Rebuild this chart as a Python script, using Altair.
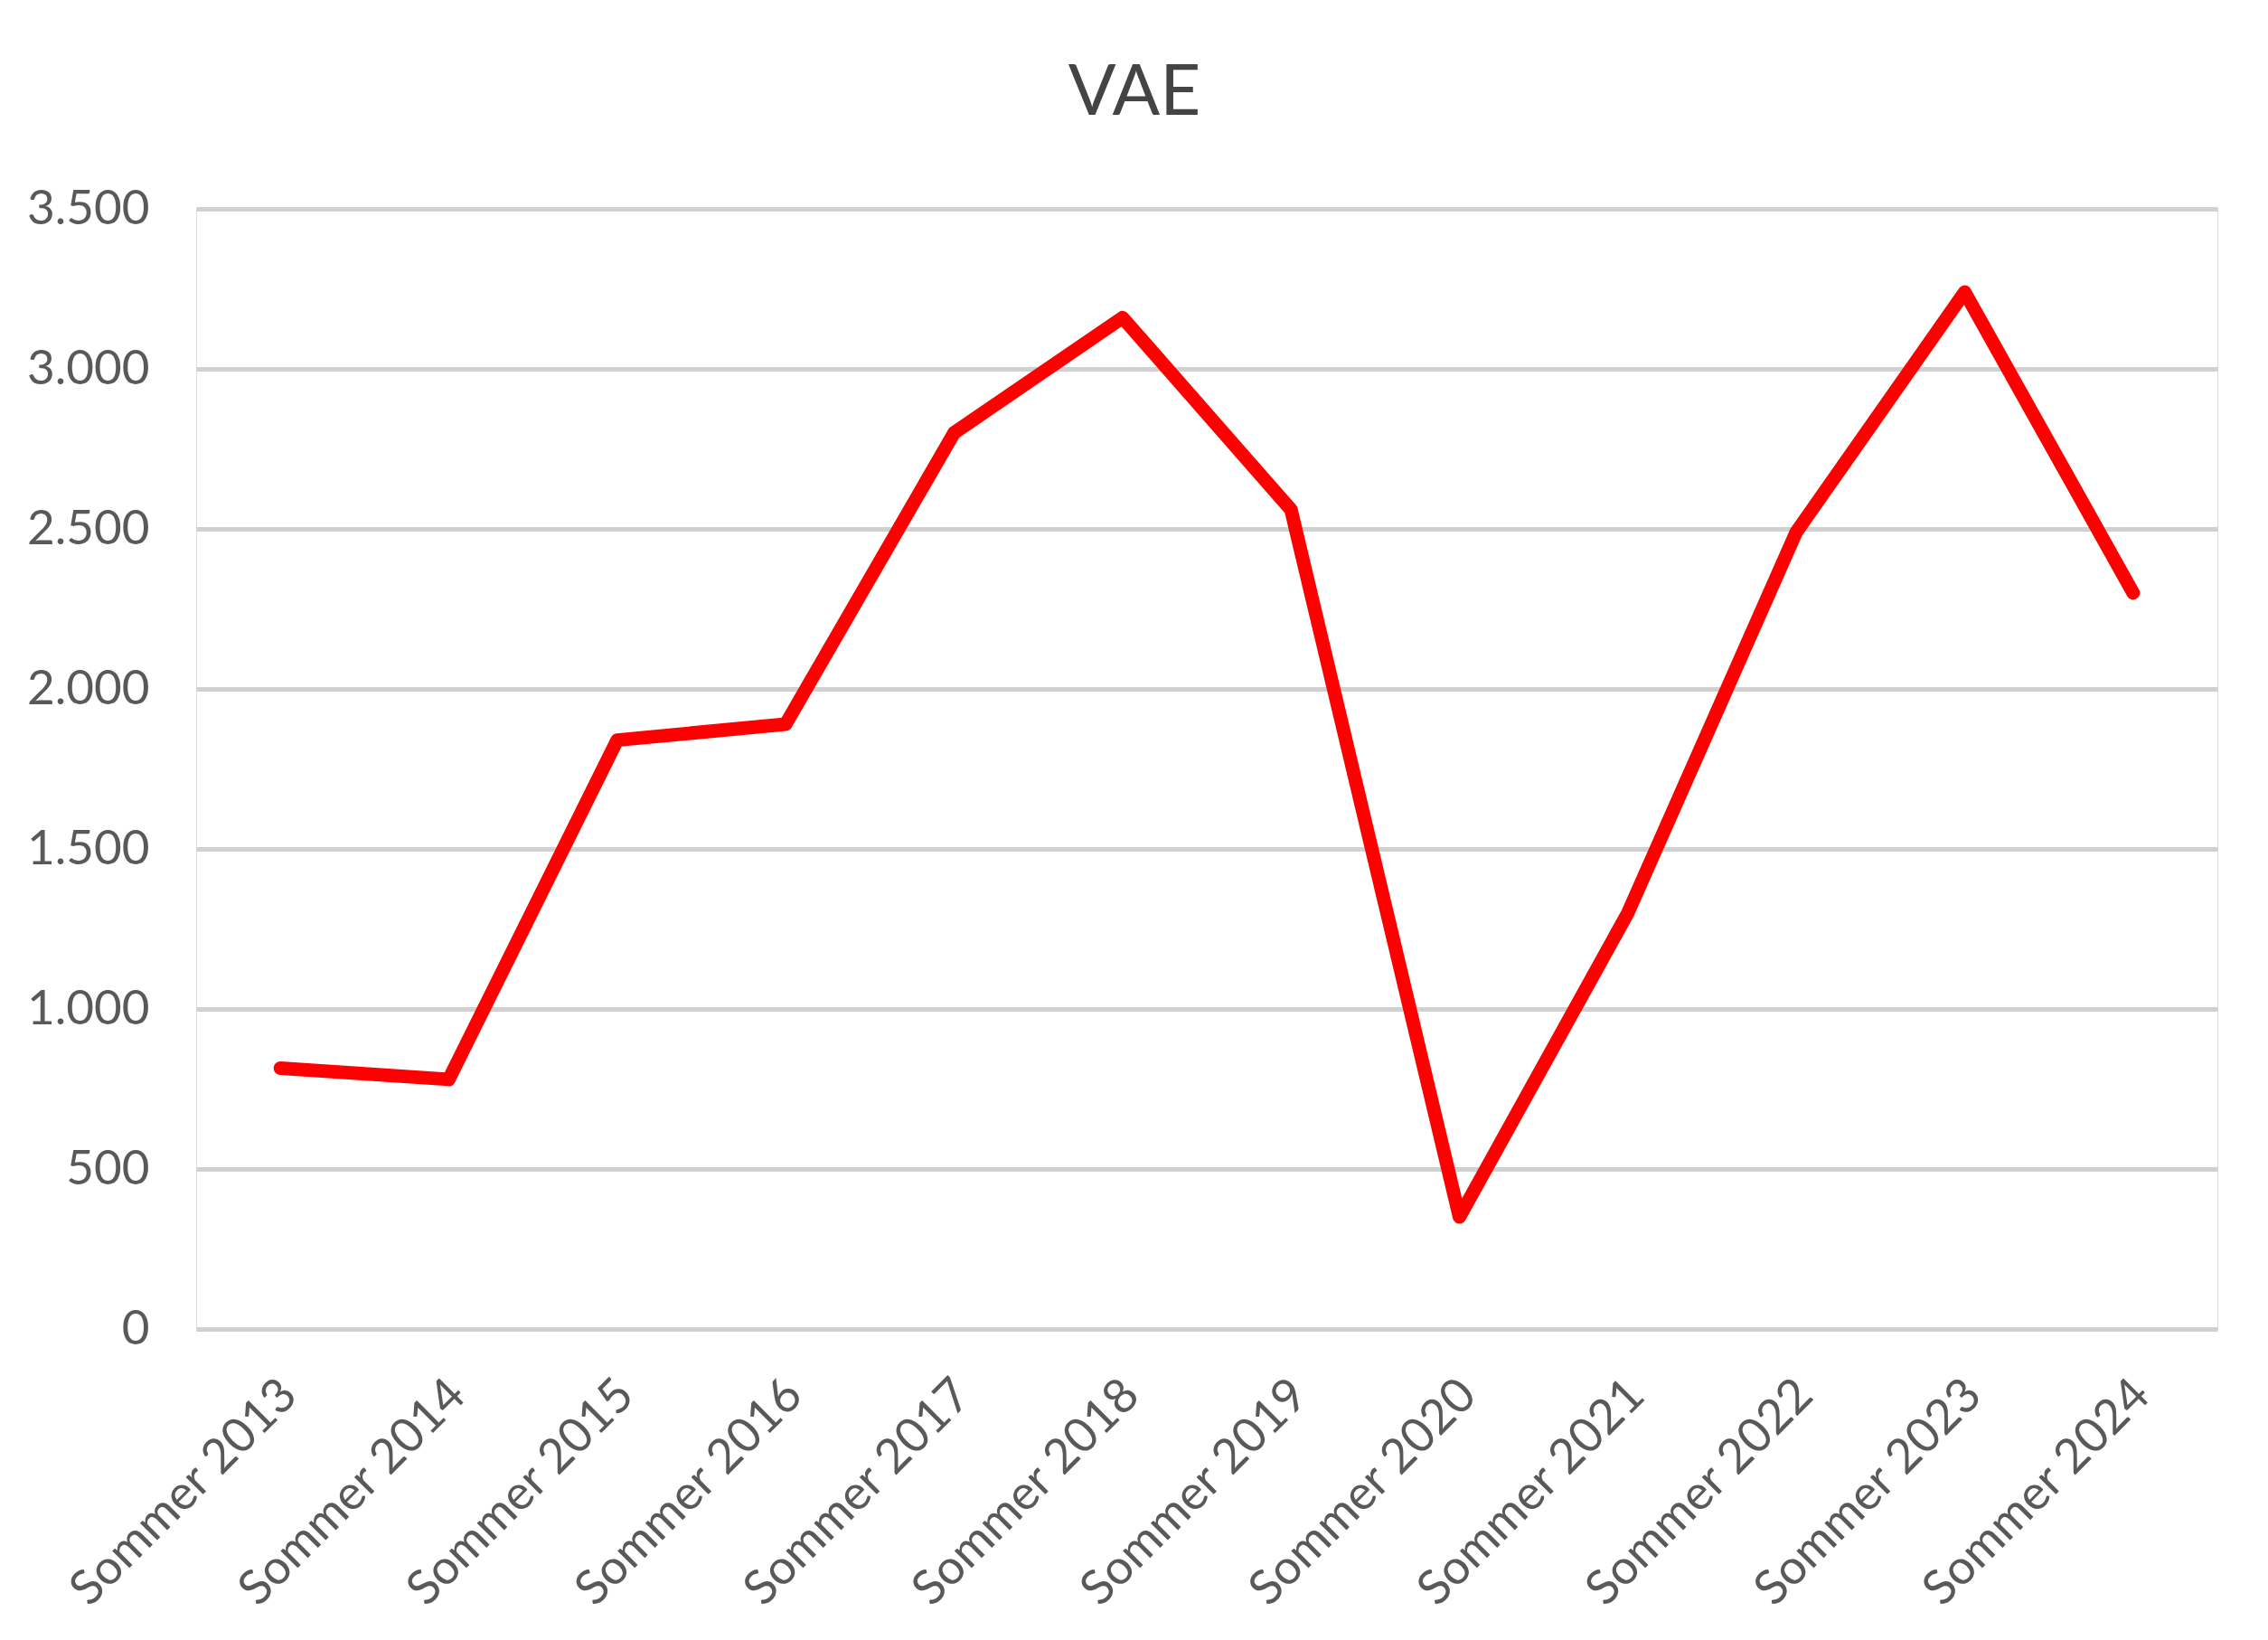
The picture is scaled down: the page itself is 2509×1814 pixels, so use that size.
import altair as alt
import pandas as pd

seasons = ["Sommer 2013", "Sommer 2014", "Sommer 2015", "Sommer 2016", "Sommer 2017",
           "Sommer 2018", "Sommer 2019", "Sommer 2020", "Sommer 2021", "Sommer 2022",
           "Sommer 2023", "Sommer 2024"]
vae = [815, 780, 1840, 1890, 2800, 3160, 2560, 350, 1300, 2490, 3240, 2300]
y_ticks = [0, 500, 1000, 1500, 2000, 2500, 3000, 3500]

df = pd.DataFrame({"season": seasons, "vae": vae})

FONT = "Lato"
GREY = "#595959"

chart = alt.Chart(df).mark_line(
    color="#FF0000", strokeWidth=15, strokeCap="round", strokeJoin="round"
).encode(
    x=alt.X("season:N", sort=seasons, title=None,
            scale=alt.Scale(type="point", padding=0.5),
            axis=alt.Axis(labelAngle=-45, labelAlign="right", labelBaseline="top",
                          labelFont=FONT, labelFontSize=53, labelColor=GREY,
                          labelLimit=0, labelOverlap=False,
                          ticks=False, domain=False, grid=False,
                          labelPadding=46, labelOffset=-9)),
    y=alt.Y("vae:Q", title=None,
            scale=alt.Scale(domain=[0, 3500], nice=False),
            axis=alt.Axis(values=y_ticks, labelFont=FONT, labelFontSize=53,
                          labelColor=GREY, ticks=False, domain=False,
                          gridColor="#D0D0D0", gridWidth=5, labelPadding=52,
                          labelExpr="replace(format(datum.value, ','), ',', '.')")),
).properties(
    width=2236,
    height=1239,
    title=alt.TitleParams("VAE", font=FONT, fontSize=78, fontWeight="normal",
                          color="#444444", anchor="middle", frame="group",
                          baseline="alphabetic", offset=0, dx=-80),
    autosize=alt.AutoSizeParams(type="none"),
    padding={"left": 209, "top": 223, "right": 40, "bottom": 334},
).configure_view(
    stroke="transparent", strokeWidth=0, strokeOpacity=0
).configure_axisX(grid=False).configure(background="white")

chart.save("out.html", embed_options={"renderer": "svg", "actions": False})
